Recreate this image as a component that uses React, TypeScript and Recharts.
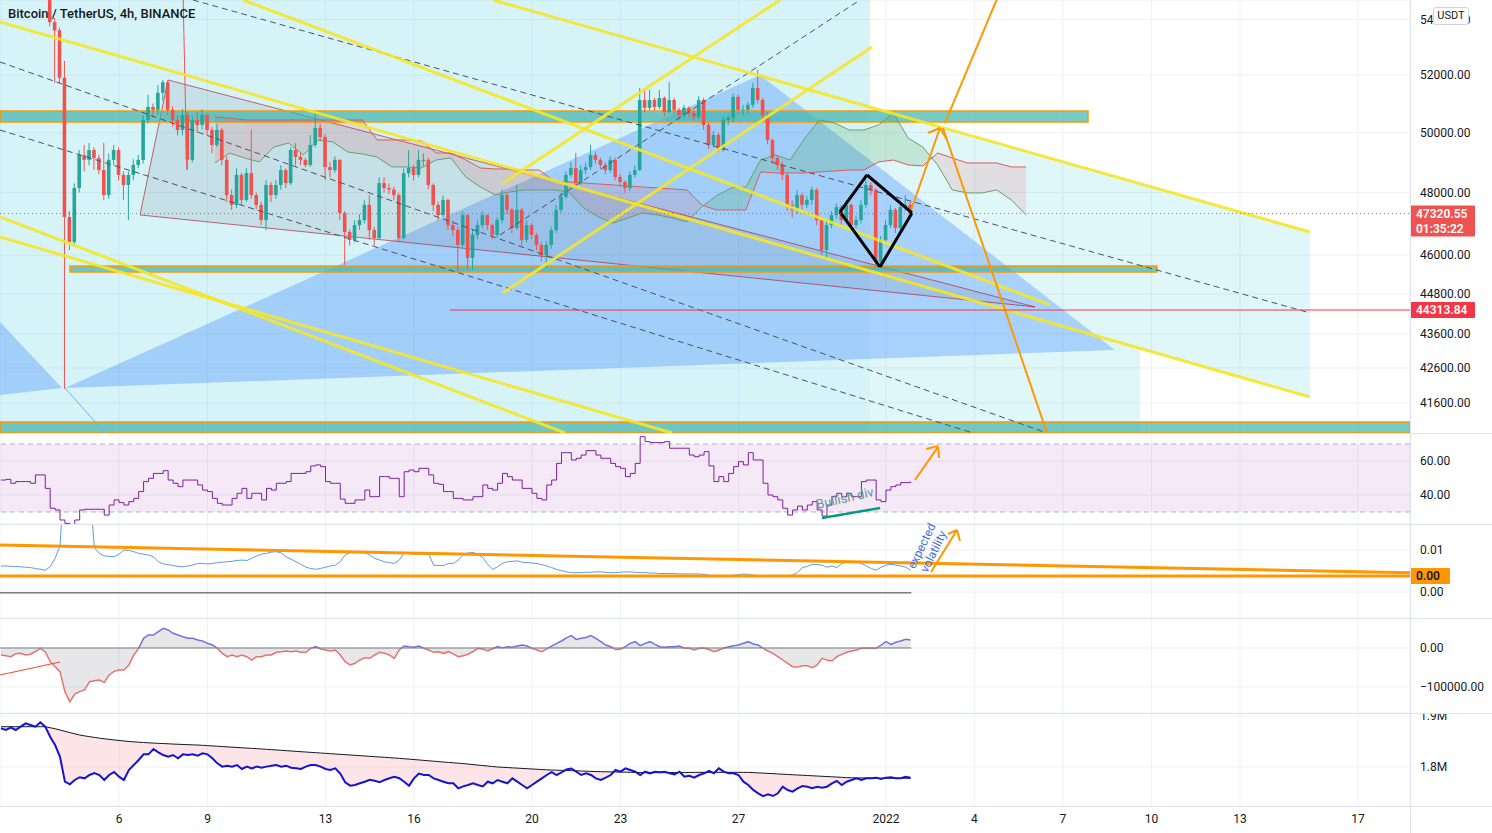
import React from 'react'
import {
  ComposedChart,
  Bar,
  Line,
  Area,
  XAxis,
  YAxis,
  CartesianGrid,
  ReferenceLine,
  ReferenceArea,
} from 'recharts'

// time axis: days counted from 1 Dec 2021 (32 = 1 Jan 2022)
const X_DOMAIN: [number, number] = [1.966, 49.763]
const X_TICKS = [6, 9, 13, 16, 20, 23, 27, 32, 35, 38, 41, 44, 48]
const X_TICK_LABELS = ['6', '9', '13', '16', '20', '23', '27', '2022', '4', '7', '10', '13', '17']
const FIRST_BAR_DAY = 2
const BARS_PER_DAY = 6

// BTCUSDT 4h candles
const FIRST_OPEN = 57000
const CLOSES = [
  57180, 56900, 56650, 56950, 56480, 56720, 56300, 56560, 56150, 55480,
  53900, 53600, 51900, 47210, 46410, 48150, 49240, 49080, 49410, 49140,
  48740, 47920, 49080, 49410, 48580, 48250, 48580, 48910, 49080, 50430,
  50880, 50780, 51370, 51740, 50780, 50430, 50090, 50600, 49080, 50430,
  50260, 50600, 50090, 49580, 50090, 49080, 47920, 47600, 48580, 47760,
  48640, 47920, 47600, 47110, 48250, 47920, 48250, 48740, 48310, 49410,
  49180, 49080, 48910, 49580, 50160, 49850, 48840, 48740, 49080, 47340,
  46730, 46480, 46950, 47110, 47600, 46790, 46540, 48310, 48150, 48100,
  47920, 46540, 48640, 48810, 48580, 49080, 49080, 48250, 47600, 47270,
  47760, 46950, 46790, 46320, 47270, 45910, 46640, 46950, 47270, 46950,
  46640, 47110, 47920, 47440, 46860, 47440, 46480, 46950, 46640, 46320,
  46000, 46320, 46790, 47440, 47860, 48580, 48810, 48310, 48740, 48840,
  49240, 49080, 48910, 48740, 49080, 48510, 48350, 48150, 48580, 48740,
  51120, 50850, 51120, 50880, 51190, 50710, 51120, 50780, 50600, 50850,
  50670, 50530, 51120, 50260, 49580, 49920, 49410, 50430, 50500, 51230,
  50780, 50780, 50950, 51540, 51120, 50600, 49750, 49140, 48910, 48580,
  47600, 47440, 47920, 47600, 47760, 48090, 47110, 46160, 46950, 47270,
  47530, 47110, 47600, 46950, 47110, 47600, 48250, 48090, 45790, 46480,
  46950, 47440, 46860, 47530, 47600, 47320,
]
const HIGHS = [
  57450, 57300, 57000, 57100, 57000, 56900, 56800, 56700, 56600, 56200,
  55600, 54050, 53700, 52500, 47400, 48300, 49410, 49580, 49650, 49500,
  49250, 49650, 49300, 49580, 49500, 48700, 48700, 49100, 49250, 50600,
  51300, 51000, 51650, 51820, 51800, 50900, 50600, 50800, 50700, 50600,
  50700, 50800, 50650, 50200, 50300, 50150, 49200, 48100, 48800, 48650,
  48800, 50090, 48000, 47700, 48400, 48350, 48400, 48900, 48800, 49500,
  49650, 49300, 49150, 49920, 50670, 50300, 49950, 49000, 49200, 49100,
  47400, 46800, 47100, 47300, 47750, 47920, 46900, 48500, 48500, 48300,
  48200, 48000, 48800, 49410, 48900, 49410, 49300, 49150, 48300, 47700,
  47900, 47800, 47100, 46900, 47400, 47300, 46800, 47100, 47400, 47300,
  47000, 47200, 48100, 48000, 47500, 48250, 47500, 47100, 47000, 46700,
  46400, 46450, 46900, 47600, 48000, 48700, 49000, 49310, 48900, 49000,
  49580, 49350, 49150, 49000, 49200, 49150, 48600, 48400, 48700, 48900,
  51540, 51540, 51470, 51200, 51470, 51250, 51750, 51200, 50850, 50950,
  50900, 50750, 51250, 51200, 50350, 50050, 50000, 50550, 50600, 51350,
  51300, 50950, 51050, 51720, 52180, 51200, 50700, 49800, 49250, 49000,
  48650, 47750, 48100, 48000, 47900, 48200, 48150, 47200, 47100, 47400,
  47650, 47600, 47750, 47650, 47250, 47750, 48414, 48350, 48150, 46600,
  47100, 47600, 47500, 47650, 47920, 47700,
]
const LOWS = [
  56800, 56700, 56400, 56500, 56200, 56300, 56100, 56200, 55800, 55200,
  53750, 51720, 51700, 42000, 46160, 46300, 48000, 48700, 48900, 48750,
  48600, 47750, 47800, 48900, 48400, 47760, 47110, 48400, 48800, 48950,
  50300, 50500, 50600, 51100, 50600, 50200, 49900, 49900, 48750, 49000,
  50000, 50100, 49900, 49300, 49500, 48900, 47700, 47440, 47500, 47600,
  47700, 47800, 47450, 46950, 46790, 47700, 47800, 48100, 48150, 48250,
  48900, 48900, 48840, 48850, 49500, 49700, 48410, 48500, 48650, 47110,
  45690, 46300, 46400, 46800, 47000, 46480, 46300, 46500, 48000, 47950,
  47750, 46400, 46500, 48500, 48400, 48500, 48850, 48100, 47400, 47100,
  47200, 46800, 46600, 45480, 46250, 45540, 45540, 46500, 46850, 46800,
  46500, 46550, 47000, 47300, 46700, 46800, 46300, 46400, 46500, 46150,
  45800, 45600, 46200, 46700, 47350, 47800, 48500, 48200, 48250, 48600,
  48750, 48950, 48800, 48600, 48650, 48400, 48200, 48000, 48050, 48500,
  48700, 50700, 50750, 50750, 50800, 50550, 50650, 50650, 50450, 50500,
  50550, 50400, 50450, 50090, 49450, 49500, 49340, 49350, 50250, 50350,
  50650, 50600, 50650, 50850, 51000, 50450, 49600, 49000, 48750, 48400,
  47400, 47200, 47300, 47450, 47500, 47600, 46950, 46000, 45910, 46850,
  47150, 46950, 47000, 46800, 46850, 47000, 47500, 47900, 45600, 45650,
  46400, 46850, 46700, 46800, 47400, 47250,
]
const LAST_PRICE = 47320.55
const LEVEL_PRICE = 44313.84

// price axis (log)
const PRICE_DOMAIN: [number, number] = [40757, 54720]
const PRICE_TICKS = [41600, 42600, 43600, 44800, 46000, 48000, 50000, 52000, 54000]

// ichimoku cloud, projected forward
const CLOUD_DAYS = [
  9.25, 9.75, 10.25, 10.75, 11.25, 11.75, 12.25, 12.75, 13.25, 13.75,
  14.25, 14.75, 15.25, 15.75, 16.25, 16.75, 17.25, 17.75, 18.25, 18.75,
  19.25, 19.75, 20.25, 20.75, 21.25, 21.75, 22.25, 22.75, 23.25, 23.75,
  24.25, 24.75, 25.25, 25.75, 26.25, 26.75, 27.25, 27.75, 28.25, 28.75,
  29.25, 29.75, 30.25, 30.75, 31.25, 31.75, 32.25, 32.75, 33.25, 33.75,
  34.25, 34.75, 35.25, 35.75, 36.25, 36.75,
]
const SPAN_A = [
  48977, 49311, 49144, 49010, 49513, 49648, 49244, 49749, 49682, 49345,
  49277, 49177, 48844, 48844, 48810, 49077, 49144, 48513, 48184, 47922,
  48021, 48086, 48086, 48086, 48021, 47500, 47211, 47018, 47178, 47339,
  47275, 47178, 47050, 47532, 47890, 48151, 48184, 49077, 49244, 49077,
  49817, 50431, 50328, 50089, 50089, 50259, 50671, 49817, 49513, 48910,
  48086, 47988, 47988, 48086, 47759, 47275,
]
const SPAN_B = [
  50533, 50499, 50431, 50431, 50431, 50431, 50431, 50431, 50431, 50431,
  50431, 49749, 49749, 49749, 49715, 49311, 49311, 49077, 48810, 48777,
  48777, 48744, 48744, 48381, 48348, 48315, 48282, 48250, 48217, 48184,
  48151, 48118, 48086, 47597, 47436, 47436, 47436, 48678, 48645, 48645,
  48645, 48678, 48711, 48744, 48744, 49010, 49077, 48910, 48877, 49311,
  49144, 48977, 48977, 48977, 48844, 48844,
]

// lower panes
const RSI = [
  48.8, 49.2, 46.9, 47.9, 47.9, 47.9, 46.9, 51.8, 51.8, 43.9,
  32.2, 31.2, 25.3, 23.3, 18, 25.3, 31.2, 31.6, 31.6, 31.6,
  31.6, 28.2, 34.1, 37.1, 35.5, 34.1, 36.1, 38.0, 42.0, 47.9,
  49.8, 52.7, 52.7, 54.3, 48.8, 46.9, 44.9, 48.8, 48.8, 48.8,
  45.9, 42.9, 42.0, 38.0, 35.1, 34.1, 34.1, 38.0, 41.0, 43.9,
  38.0, 41.0, 41.0, 37.1, 43.9, 42.9, 46.9, 46.9, 47.9, 52.7,
  52.7, 52.7, 53.7, 57.1, 57.7, 56.7, 47.9, 46.9, 46.9, 37.6,
  35.1, 35.1, 37.1, 37.1, 42.9, 39.0, 39.0, 50.8, 50.8, 49.8,
  49.8, 39.0, 53.7, 54.7, 53.7, 55.7, 55.7, 51.8, 46.9, 46.3,
  42.0, 42.0, 38.0, 38.0, 37.1, 37.1, 39.0, 39.0, 45.9, 43.9,
  42.9, 46.9, 52.7, 50.8, 48.8, 48.8, 43.9, 43.9, 41.0, 38.0,
  37.1, 45.9, 48.8, 58.6, 64.9, 64.9, 60.6, 61.6, 63.5, 66.1,
  66.1, 63.5, 61.6, 61.6, 58.6, 56.7, 55.7, 50.8, 52.7, 58.6,
  74.3, 71.4, 70.8, 70.8, 70.8, 71.4, 67.5, 67.5, 67.5, 67.5,
  63.5, 62.5, 63.5, 65.5, 57.1, 47.9, 50.8, 47.9, 52.7, 56.7,
  59.6, 57.7, 64.9, 60.6, 60.6, 46.9, 40.0, 39.0, 37.1, 32.2,
  28.2, 31.2, 33.5, 31.2, 34.1, 36.1, 31.2, 27.6, 34.1, 39.0,
  41.0, 39.0, 41.0, 39.0, 39.0, 47.9, 48.8, 48.8, 37.1, 36.1,
  42.9, 44.9, 45.9, 47.3, 47.3, 47.9,
]
const VOLATILITY = [
  0.0062, 0.0062, 0.0061, 0.0061, 0.006, 0.0059, 0.0058, 0.0056, 0.0054, 0.0052,
  0.006, 0.008, 0.011, 0.03, 0.034, 0.036, 0.035, 0.032, 0.025, 0.0105,
  0.0092, 0.0086, 0.0085, 0.0084, 0.009, 0.01, 0.0099, 0.0096, 0.0092, 0.009,
  0.0088, 0.0084, 0.0072, 0.0067, 0.0065, 0.0063, 0.0061, 0.006, 0.0062, 0.0064,
  0.0068, 0.0068, 0.0067, 0.0068, 0.007, 0.0071, 0.0072, 0.0073, 0.0075, 0.0076,
  0.0075, 0.008, 0.0086, 0.009, 0.0092, 0.0095, 0.0096, 0.0093, 0.0084, 0.0078,
  0.0072, 0.0066, 0.0059, 0.0056, 0.0054, 0.0056, 0.0059, 0.0062, 0.0064, 0.0072,
  0.0088, 0.0094, 0.0094, 0.0094, 0.0094, 0.0088, 0.008, 0.0076, 0.0072, 0.007,
  0.0068, 0.0076, 0.0092, 0.0091, 0.009, 0.009, 0.009, 0.009, 0.0064, 0.0063,
  0.0063, 0.0068, 0.0068, 0.0076, 0.0088, 0.0093, 0.0094, 0.009, 0.0082, 0.0066,
  0.0054, 0.006, 0.0068, 0.0072, 0.0073, 0.0074, 0.0071, 0.007, 0.0069, 0.0068,
  0.0065, 0.0062, 0.0058, 0.0054, 0.0051, 0.0048, 0.0046, 0.0046, 0.0046, 0.0047,
  0.0047, 0.0048, 0.0048, 0.0047, 0.0046, 0.0046, 0.0047, 0.0048, 0.0048, 0.0047,
  0.0046, 0.0046, 0.0045, 0.0045, 0.0044, 0.0044, 0.0044, 0.0044, 0.0043, 0.0043,
  0.0043, 0.0043, 0.0043, 0.0042, 0.004, 0.0039, 0.0038, 0.0038, 0.0039, 0.004,
  0.0041, 0.0043, 0.0042, 0.004, 0.0039, 0.0039, 0.0038, 0.0038, 0.0039, 0.0039,
  0.0038, 0.0041, 0.0046, 0.0058, 0.0061, 0.0066, 0.0065, 0.0064, 0.0059, 0.0062,
  0.0058, 0.0068, 0.0071, 0.0072, 0.0072, 0.0068, 0.0062, 0.0056, 0.0052, 0.0059,
  0.0064, 0.0066, 0.0064, 0.0062, 0.0059, 0.0052,
]
const OSC = [
  -17950, -20000, -22220, -15000, -13680, -17950, -16000, -9000, -850, -9400,
  -35040, -47860, -60680, -111960, -137600, -118000, -111960, -107690, -86320, -84000,
  -82050, -88030, -69230, -60000, -56410, -56410, -43590, -17950, -850, 24790,
  33330, 33330, 41880, 50530, 46150, 37610, 33330, 29060, 24790, 24790,
  20510, 17950, 11970, 7690, -850, -13680, -22220, -17950, -22220, -17950,
  -22220, -30770, -22220, -22220, -17950, -17950, -11110, -9400, -7690, -9400,
  -7690, -11110, -11110, -850, 3420, -2560, -5130, -7690, -5130, -17950,
  -35040, -43590, -39320, -30770, -24790, -26500, -17950, -11110, -13680, -17950,
  -26500, -5000, 5130, 3000, 1710, 5130, -850, -5130, -11110, -9400,
  -13680, -9400, -15000, -22220, -20000, -16000, -9000, -850, -3000, -7690,
  -2000, 3420, 0, 3420, 2000, 5130, 7690, 5000, -850, -5130,
  -9400, -2000, 5000, 12000, 18000, 26000, 31620, 22000, 24790, 27000,
  31620, 24790, 16240, 7690, 3420, -4000, -3420, 3420, 11970, 16240,
  5980, 11970, 16240, 9400, 3420, 1710, 3420, 3420, 5130, -850,
  -850, -5130, -850, -850, -4000, -9400, -5130, -850, 3420, 5980,
  7690, 11970, 16240, 10260, 7690, -850, -7690, -13680, -22220, -30770,
  -39320, -47860, -49000, -45300, -45300, -50430, -43590, -26500, -31000, -33330,
  -22220, -16240, -11110, -7690, -5130, -850, -850, -850, -850, 7690,
  16240, 9400, 14530, 17950, 22220, 20510,
]
const OBV = [
  1875800, 1872500, 1877100, 1872500, 1879100, 1885600, 1882400, 1879100, 1887600, 1879100,
  1859500, 1843100, 1820000, 1771200, 1766000, 1774500, 1780000, 1777800, 1784300, 1788000,
  1784300, 1774500, 1784300, 1790000, 1781000, 1774500, 1794100, 1803900, 1813700, 1824800,
  1824800, 1835300, 1828800, 1823500, 1820300, 1823500, 1817000, 1824800, 1823500, 1824800,
  1822200, 1826800, 1824800, 1817000, 1807200, 1800700, 1802600, 1800700, 1803900, 1796100,
  1800700, 1797400, 1800700, 1798700, 1800700, 1802600, 1803900, 1800700, 1802600, 1798700,
  1797400, 1796100, 1800700, 1803900, 1803900, 1800700, 1796100, 1794100, 1797400, 1787000,
  1770000, 1763400, 1764700, 1768000, 1771200, 1775000, 1773000, 1770000, 1774500, 1778000,
  1781000, 1778000, 1771200, 1763400, 1777800, 1787000, 1784300, 1784300, 1777800, 1774500,
  1771200, 1768000, 1768000, 1758200, 1762000, 1764700, 1768000, 1764700, 1762000, 1771200,
  1768000, 1774500, 1771200, 1768000, 1777800, 1771200, 1764700, 1758200, 1764700, 1771200,
  1777800, 1784300, 1790000, 1784300, 1789500, 1795000, 1797000, 1790800, 1784300, 1787600,
  1784300, 1777800, 1774500, 1779100, 1784300, 1794100, 1790800, 1797400, 1794100, 1790800,
  1784300, 1790800, 1787600, 1790800, 1789500, 1790800, 1787600, 1785600, 1790800, 1781000,
  1782900, 1779100, 1784300, 1787600, 1792200, 1787600, 1797400, 1790800, 1787600, 1787600,
  1784300, 1771200, 1764700, 1755000, 1748400, 1743000, 1746400, 1743100, 1748400, 1761400,
  1754900, 1751600, 1758200, 1762700, 1761400, 1758200, 1761400, 1759500, 1761400, 1768000,
  1772500, 1764700, 1771200, 1774500, 1777800, 1774500, 1777800, 1777800, 1779100, 1776500,
  1779100, 1779700, 1777800, 1777800, 1781000, 1779100,
]
const OBV_MA = [
  1879000, 1879000, 1879000, 1879000, 1879000, 1879000, 1879000, 1879000, 1879000, 1879000,
  1877000, 1875000, 1872500, 1870000, 1867500, 1865000, 1862700, 1861000, 1859500, 1858000,
  1856500, 1855300, 1854200, 1853100, 1852000, 1851000, 1850000, 1849300, 1848600, 1848000,
  1847400, 1846900, 1846400, 1846000, 1845500, 1845000, 1844600, 1844200, 1843800, 1843400,
  1843100, 1842500, 1841900, 1841300, 1840700, 1840100, 1839500, 1838900, 1838300, 1837700,
  1837100, 1836600, 1836000, 1835300, 1834700, 1834000, 1833400, 1832700, 1832000, 1831400,
  1830700, 1830000, 1829400, 1828700, 1828100, 1827400, 1826800, 1826100, 1825500, 1824800,
  1824200, 1823500, 1822900, 1822200, 1821600, 1820900, 1820300, 1819600, 1819000, 1818300,
  1817700, 1817000, 1816200, 1815400, 1814600, 1813800, 1813000, 1812200, 1811400, 1810600,
  1809800, 1809000, 1808200, 1807500, 1806600, 1805700, 1804700, 1803800, 1802800, 1801900,
  1800900, 1800000, 1799400, 1798900, 1798300, 1797800, 1797200, 1796700, 1796100, 1795600,
  1795000, 1794500, 1794000, 1793700, 1793400, 1793100, 1792800, 1792500, 1792100, 1791800,
  1791400, 1791100, 1790800, 1790600, 1790400, 1790200, 1790000, 1789800, 1789600, 1789400,
  1789200, 1789000, 1788900, 1788900, 1789000, 1789000, 1789100, 1789200, 1789200, 1789300,
  1789400, 1789400, 1789500, 1789500, 1789500, 1789500, 1789500, 1789500, 1789500, 1789500,
  1789500, 1789500, 1789500, 1789000, 1788500, 1788000, 1787500, 1787000, 1786400, 1785900,
  1785400, 1784800, 1784300, 1783800, 1783300, 1782800, 1782300, 1781800, 1781300, 1780800,
  1780300, 1779800, 1779100, 1778900, 1778700, 1778600, 1778400, 1778200, 1778100, 1778000,
  1777900, 1777900, 1777800, 1777800, 1777800, 1777800,
]

const RSI_DOMAIN: [number, number] = [22.94, 75.88]
const VOL_DOMAIN: [number, number] = [-0.00619, 0.01619]
const OSC_DOMAIN: [number, number] = [-166667, 76923]
const OBV_DOMAIN: [number, number] = [1723529, 1905882]
const VOL_BAND = 0.0038

// drawings on the price pane: [day, price]
type Pt = [number, number]
const CYAN_LEFT: Pt[] = [[1.966, 40757], [31.458, 40757], [31.458, 54720], [1.966, 54720]]
const CYAN_CHANNEL: Pt[] = [[31.458, 50879], [46.373, 46731], [46.373, 41768], [31.458, 45507]]
const CYAN_LOW: Pt[] = [[31.458, 45507], [40.61, 43186], [40.61, 40757], [31.458, 40757]]
const BLUE_TRIANGLE: Pt[] = [[4.169, 42024], [27.729, 51998], [39.763, 43127]]
const BLUE_EDGE: Pt[] = [[1.966, 43957], [4.068, 42024], [1.966, 41825]]
const WEDGE: Pt[] = [[6.712, 47275], [7.661, 51821], [37.051, 44407]]
const ZONES: [number, number, number, number][] = [
  [1.966, 38.847, 50360, 50740],
  [4.339, 41.186, 45476, 45660],
  [1.966, 49.763, 40757, 41065],
]
const YELLOW: [Pt, Pt][] = [
  [[1.966, 53908], [46.373, 41768]],
  [[10.203, 54720], [37.559, 44468]],
  [[18.678, 54720], [46.373, 46731]],
  [[19.017, 48315], [28.407, 54720]],
  [[19.017, 44832], [31.525, 52998]],
  [[1.966, 47211], [21.119, 40757]],
  [[1.966, 46572], [24.746, 40757]],
]
const DASHED: [Pt, Pt][] = [
  [[8.508, 54720], [46.373, 44226]],
  [[1.966, 52460], [37.458, 40757]],
  [[1.966, 50089], [34.949, 40757]],
  [[18.915, 46636], [31.119, 54720]],
]
const ORANGE: [Pt, Pt][] = [
  [[32.814, 47339], [33.83, 50157]],
  [[33.42, 49987], [33.83, 50157]],
  [[33.83, 50157], [34.07, 49749]],
  [[34.0, 50328], [35.86, 55018]],
  [[33.93, 50157], [37.458, 40757]],
]
const DIAMOND: Pt[] = [[30.441, 47371], [31.356, 48578], [32.881, 47339], [31.797, 45631], [30.441, 47371]]
const RED_STROKE: [Pt, Pt] = [[8.17, 55000], [8.3, 48744]]
const RED_THIN: [Pt, Pt] = [[4.169, 42024], [5.525, 40757]]

// drawings on the lower panes
const RSI_DIV: [Pt, Pt] = [[29.83, 26.47], [31.8, 32.35]]
const RSI_ARROW: [Pt, Pt][] = [
  [[32.98, 48.8], [33.76, 68.2]],
  [[33.36, 67.1], [33.76, 68.8]],
  [[33.76, 68.8], [33.8, 61.8]],
]
const VOL_TREND: [Pt, Pt] = [[1.966, 0.0112], [49.763, 0.0046]]
const VOL_BASE: [Pt, Pt] = [[1.966, -0.0002], [32.86, -0.0002]]
const VOL_ARROW: [Pt, Pt][] = [
  [[33.525, 0.00476], [34.407, 0.01476]],
  [[34.1, 0.01381], [34.407, 0.01476]],
  [[34.407, 0.01476], [34.508, 0.01214]],
]
const OSC_ZERO: [Pt, Pt] = [[1.966, 0], [32.86, 0]]
const OSC_DRAW: [Pt, Pt] = [[1.966, -69231], [4.0, -35897]]

const FONT = 'Roboto, "Liberation Sans", Arial, sans-serif'
const GRID = '#eef1f6'
const TICK = { fontSize: 12, fill: '#131722', fontFamily: FONT }
const UP = '#26a69a'
const DOWN = '#ef5350'

const barDay = (i: number) => FIRST_BAR_DAY + i / BARS_PER_DAY

const candleRows = CLOSES.map((c, i) => {
  const o = i === 0 ? FIRST_OPEN : CLOSES[i - 1]
  return { x: barDay(i), o, h: HIGHS[i], l: LOWS[i], c, range: [LOWS[i], HIGHS[i]] }
})

const paneRows = CLOSES.map((_, i) => ({
  x: barDay(i),
  rsi: RSI[i],
  vol: VOLATILITY[i],
  osc: OSC[i],
  obv: OBV[i],
  ma: OBV_MA[i],
  band: [OBV[i], OBV_MA[i]],
}))

const cloudRows = CLOUD_DAYS.map((d, i) => ({ x: d, a: SPAN_A[i], b: SPAN_B[i], cloud: [SPAN_A[i], SPAN_B[i]] }))

function cloudStops() {
  const first = CLOUD_DAYS[0]
  const last = CLOUD_DAYS[CLOUD_DAYS.length - 1]
  const green = 'rgba(67,160,71,0.2)'
  const red = 'rgba(229,57,53,0.13)'
  const stops: { off: number; col: string }[] = []
  let up = SPAN_A[0] >= SPAN_B[0]
  stops.push({ off: 0, col: up ? green : red })
  for (let i = 1; i < CLOUD_DAYS.length; i++) {
    const nowUp = SPAN_A[i] >= SPAN_B[i]
    if (nowUp !== up) {
      const d0 = SPAN_A[i - 1] - SPAN_B[i - 1]
      const d1 = SPAN_A[i] - SPAN_B[i]
      const day = CLOUD_DAYS[i - 1] + (d0 / (d0 - d1)) * (CLOUD_DAYS[i] - CLOUD_DAYS[i - 1])
      const off = (day - first) / (last - first)
      stops.push({ off, col: up ? green : red })
      stops.push({ off, col: nowUp ? green : red })
      up = nowUp
    }
  }
  stops.push({ off: 1, col: up ? green : red })
  return stops
}

const oscMax = Math.max(...OSC)
const oscMin = Math.min(...OSC)
const oscZero = oscMax / (oscMax - oscMin)

// eslint-disable-next-line @typescript-eslint/no-explicit-any
function Candle(props: any) {
  const { x, y, width, height, payload } = props
  if (!payload || y == null || height == null) return null
  const { o, h, l, c } = payload
  const top = Math.min(y, y + height)
  const bot = Math.max(y, y + height)
  const lh = Math.log(h)
  const ll = Math.log(l)
  const py = (p: number) => top + ((lh - Math.log(p)) / (lh - ll || 1)) * (bot - top)
  const col = c >= o ? UP : DOWN
  const cx = x + width / 2
  const b1 = py(Math.max(o, c))
  const b2 = py(Math.min(o, c))
  return (
    <g>
      <line x1={cx} x2={cx} y1={top} y2={bot} stroke={col} strokeWidth={1} />
      <rect x={cx - 1.8} y={b1} width={3.6} height={Math.max(1, b2 - b1)} fill={col} />
    </g>
  )
}

function poly(key: string, pts: Pt[], fill: string, stroke = 'none', sw = 1) {
  const xs = pts.map((p) => p[0])
  const ys = pts.map((p) => p[1])
  const x1 = Math.min(...xs)
  const x2 = Math.max(...xs)
  const y1 = Math.min(...ys)
  const y2 = Math.max(...ys)
  // eslint-disable-next-line @typescript-eslint/no-explicit-any
  const shape = (p: any) => {
    const ly1 = Math.log(y1)
    const ly2 = Math.log(y2)
    const points = pts
      .map(([d, v]) => {
        const px = p.x + ((d - x1) / (x2 - x1)) * p.width
        const py = p.y + ((ly2 - Math.log(v)) / (ly2 - ly1)) * p.height
        return `${px},${py}`
      })
      .join(' ')
    return <polygon points={points} fill={fill} stroke={stroke} strokeWidth={sw} />
  }
  return <ReferenceArea key={key} x1={x1} x2={x2} y1={y1} y2={y2} ifOverflow="hidden" shape={shape} />
}

function seg(key: string, s: [Pt, Pt], stroke: string, width = 1, dash?: string) {
  return (
    <ReferenceLine
      key={key}
      segment={[{ x: s[0][0], y: s[0][1] }, { x: s[1][0], y: s[1][1] }]}
      stroke={stroke}
      strokeWidth={width}
      strokeDasharray={dash}
      ifOverflow="hidden"
    />
  )
}

// eslint-disable-next-line @typescript-eslint/no-explicit-any
function Tag(props: any) {
  const { viewBox, lines, bg, color, w } = props
  if (!viewBox) return null
  const x = viewBox.x + viewBox.width
  const y = viewBox.y
  const h = lines.length * 15 + 1
  return (
    <g>
      <rect x={x} y={y - 8} width={w} height={h} fill={bg} rx={1} />
      {lines.map((t: string, i: number) => (
        <text key={t} x={x + 6} y={y + 4 + i * 15} fill={color} fontSize={12} fontWeight={600} fontFamily={FONT}>
          {t}
        </text>
      ))}
    </g>
  )
}

const hiddenX = () => (
  <XAxis type="number" dataKey="x" domain={X_DOMAIN} ticks={X_TICKS} allowDataOverflow hide />
)

const rightAxis = (domain: [number, number], ticks: number[], fmt: (v: number) => string, log = false) => (
  <YAxis
    orientation="right"
    width={82}
    type="number"
    scale={log ? 'log' : 'linear'}
    domain={domain}
    ticks={ticks}
    interval={0}
    allowDataOverflow
    tickLine={false}
    axisLine={false}
    tickMargin={4}
    tick={TICK}
    tickFormatter={fmt}
  />
)

const M0 = { top: 0, right: 0, bottom: 0, left: 0 }

export default function App() {
  const stops = cloudStops()
  const sep = (top: number) => (
    <div style={{ position: 'absolute', left: 0, top, width: 1492, height: 1, background: '#e0e3eb' }} />
  )
  return (
    <div
      style={{
        position: 'absolute',
        left: 0,
        top: 0,
        width: 1492,
        height: 833,
        overflow: 'hidden',
        background: '#ffffff',
        fontFamily: FONT,
      }}
    >
      {/* price pane, background drawings */}
      <div style={{ position: 'absolute', left: 0, top: 0 }}>
        <ComposedChart width={1492} height={433} data={cloudRows} margin={M0}>
          <defs>
            <linearGradient id="cloudFill" x1="0" y1="0" x2="1" y2="0">
              {stops.map((s, i) => (
                <stop key={i} offset={s.off} stopColor={s.col} />
              ))}
            </linearGradient>
          </defs>
          <CartesianGrid stroke={GRID} />
          {hiddenX()}
          {rightAxis(PRICE_DOMAIN, PRICE_TICKS, (v) => v.toFixed(2), true)}
          {poly('cl', CYAN_LEFT, 'rgba(0,188,212,0.16)')}
          {poly('cc', CYAN_CHANNEL, 'rgba(0,188,212,0.12)')}
          {poly('cw', CYAN_LOW, 'rgba(0,188,212,0.12)')}
          {poly('bt', BLUE_TRIANGLE, 'rgba(41,121,255,0.3)')}
          {poly('be', BLUE_EDGE, 'rgba(41,121,255,0.3)')}
          {poly('wg', WEDGE, 'rgba(120,123,150,0.16)', 'rgba(178,40,60,0.7)', 1)}
          {ZONES.map((z, i) => (
            <ReferenceArea
              key={'z' + i}
              x1={z[0]}
              x2={z[1]}
              y1={z[2]}
              y2={z[3]}
              ifOverflow="hidden"
              fill="#3fb3ad"
              fillOpacity={0.7}
              stroke="#ff9800"
              strokeWidth={1.5}
            />
          ))}
          <Area
            dataKey="cloud"
            type="linear"
            stroke="none"
            fill="url(#cloudFill)"
            fillOpacity={1}
            isAnimationActive={false}
            dot={false}
            activeDot={false}
          />
          <Line dataKey="a" type="linear" stroke="#66a06a" strokeWidth={1} dot={false} isAnimationActive={false} />
          <Line dataKey="b" type="linear" stroke="#e05a5a" strokeWidth={1} dot={false} isAnimationActive={false} />
        </ComposedChart>
      </div>

      {/* price pane, candles and line drawings */}
      <div style={{ position: 'absolute', left: 0, top: 0 }}>
        <ComposedChart width={1492} height={433} data={candleRows} margin={{ top: 0, right: 82, bottom: 0, left: 0 }}>
          {hiddenX()}
          <YAxis hide type="number" scale="log" domain={PRICE_DOMAIN} allowDataOverflow />
          {seg('rv', RED_STROKE, '#ef5350', 1)}
          {seg('rt', RED_THIN, '#64b5f6', 1)}
          <Bar dataKey="range" barSize={4} isAnimationActive={false} shape={(p: unknown) => <Candle {...(p as object)} />} />
          {DASHED.map((s, i) => seg('d' + i, s, '#4a5068', 1, '6 4'))}
          {YELLOW.map((s, i) => seg('y' + i, s, 'rgba(245,230,40,0.9)', 3))}
          {ORANGE.map((s, i) => seg('o' + i, s, '#ff9800', 2))}
          {DIAMOND.slice(1).map((p, i) => seg('k' + i, [DIAMOND[i], p], '#000000', 3))}
          <ReferenceLine
            segment={[{ x: 17.22, y: LEVEL_PRICE }, { x: X_DOMAIN[1], y: LEVEL_PRICE }]}
            stroke="#f23645"
            strokeWidth={1}
            label={<Tag lines={[LEVEL_PRICE.toFixed(2)]} bg="#f23645" color="#ffffff" w={65} />}
          />
          <ReferenceLine
            y={LAST_PRICE}
            stroke="#ef5350"
            strokeWidth={1}
            strokeDasharray="1 3"
            label={<Tag lines={[LAST_PRICE.toFixed(2), '01:35:22']} bg="#ef5350" color="#ffffff" w={65} />}
          />
        </ComposedChart>
      </div>

      {/* RSI */}
      <div style={{ position: 'absolute', left: 0, top: 434 }}>
        <ComposedChart width={1492} height={90} data={paneRows} margin={M0}>
          <CartesianGrid stroke={GRID} />
          {hiddenX()}
          {rightAxis(RSI_DOMAIN, [40, 60], (v) => v.toFixed(2))}
          <ReferenceArea y1={30} y2={70} fill="#9c27b0" fillOpacity={0.1} stroke="none" />
          <ReferenceLine y={70} stroke="#b2b5be" strokeDasharray="5 4" />
          <ReferenceLine y={30} stroke="#b2b5be" strokeDasharray="5 4" />
          <Line dataKey="rsi" type="stepAfter" stroke="#7e1f9e" strokeWidth={1} dot={false} isAnimationActive={false} />
          {seg('div', RSI_DIV, '#089981', 2.5)}
          {RSI_ARROW.map((s, i) => seg('ra' + i, s, '#ff9800', 2))}
        </ComposedChart>
      </div>

      {/* expected volatility */}
      <div style={{ position: 'absolute', left: 0, top: 524 }}>
        <ComposedChart width={1492} height={94} data={paneRows} margin={M0}>
          <CartesianGrid stroke={GRID} />
          {hiddenX()}
          {rightAxis(VOL_DOMAIN, [0, 0.01], (v) => v.toFixed(2))}
          {seg('vb', VOL_BASE, '#787b86', 1.5)}
          <Line dataKey="vol" type="linear" stroke="#5a9fd8" strokeWidth={1} dot={false} isAnimationActive={false} />
          {seg('vt', VOL_TREND, '#ff9800', 3)}
          <ReferenceLine
            y={VOL_BAND}
            stroke="#ff9800"
            strokeWidth={3}
            label={<Tag lines={['0.00']} bg="#ff9800" color="#131722" w={40} />}
          />
          {VOL_ARROW.map((s, i) => seg('va' + i, s, '#ff9800', 2))}
        </ComposedChart>
      </div>

      {/* oscillator */}
      <div style={{ position: 'absolute', left: 0, top: 618 }}>
        <ComposedChart width={1492} height={95} data={paneRows} margin={M0}>
          <defs>
            <linearGradient id="oscStroke" x1="0" y1="0" x2="0" y2="1">
              <stop offset={oscZero} stopColor="#7272dc" />
              <stop offset={oscZero} stopColor="#e57370" />
            </linearGradient>
          </defs>
          <CartesianGrid stroke={GRID} />
          {hiddenX()}
          {rightAxis(OSC_DOMAIN, [-100000, 0], (v) => v.toFixed(2).replace('-', '\u2212'))}
          <Area
            dataKey="osc"
            type="linear"
            baseValue={0}
            stroke="url(#oscStroke)"
            strokeWidth={1.5}
            fill="#787b86"
            fillOpacity={0.18}
            dot={false}
            activeDot={false}
            isAnimationActive={false}
          />
          {seg('oz', OSC_ZERO, '#787b86', 1)}
          {seg('od', OSC_DRAW, '#f44336', 1)}
        </ComposedChart>
      </div>

      {/* OBV with moving average, and the time axis */}
      <div style={{ position: 'absolute', left: 0, top: 713 }}>
        <ComposedChart width={1492} height={120} data={paneRows} margin={M0}>
          <CartesianGrid stroke={GRID} />
          <XAxis
            type="number"
            dataKey="x"
            domain={X_DOMAIN}
            ticks={X_TICKS}
            interval={0}
            allowDataOverflow
            height={27}
            tickLine={false}
            axisLine={false}
            tick={TICK}
            tickFormatter={(v: number) => X_TICK_LABELS[X_TICKS.indexOf(v)] ?? ''}
          />
          {rightAxis(OBV_DOMAIN, [1800000, 1900000], (v) => (v / 1e6).toFixed(1) + 'M')}
          <Area
            dataKey="band"
            type="linear"
            stroke="none"
            fill="#f23645"
            fillOpacity={0.13}
            dot={false}
            activeDot={false}
            isAnimationActive={false}
          />
          <Line dataKey="ma" type="linear" stroke="#131722" strokeWidth={1} dot={false} isAnimationActive={false} />
          <Line dataKey="obv" type="linear" stroke="#1414d2" strokeWidth={2} dot={false} isAnimationActive={false} />
        </ComposedChart>
      </div>

      {sep(433)}
      {sep(524)}
      {sep(618)}
      {sep(713)}
      {sep(806)}
      <div style={{ position: 'absolute', left: 1410, top: 0, width: 1, height: 833, background: '#e0e3eb' }} />

      <div
        style={{
          position: 'absolute',
          left: 8,
          top: 6,
          fontSize: 13,
          fontWeight: 500,
          color: '#131722',
          whiteSpace: 'nowrap',
        }}
      >
        Bitcoin / TetherUS, 4h, BINANCE
      </div>
      <div
        style={{
          position: 'absolute',
          left: 1433,
          top: 7,
          width: 34,
          height: 16,
          border: '1px solid #d1d4dc',
          borderRadius: 3,
          background: '#ffffff',
          fontSize: 11,
          lineHeight: '16px',
          textAlign: 'center',
          color: '#131722',
        }}
      >
        USDT
      </div>
      <div
        style={{
          position: 'absolute',
          left: 818,
          top: 497,
          fontSize: 13,
          color: '#5b9a8b',
          transform: 'rotate(-13deg)',
          transformOrigin: 'left bottom',
          whiteSpace: 'nowrap',
        }}
      >
        Bullish div
      </div>
      <div
        style={{
          position: 'absolute',
          left: 896,
          top: 536,
          width: 64,
          fontSize: 12,
          lineHeight: '13px',
          color: '#3a6fe0',
          transform: 'rotate(-64deg)',
          transformOrigin: 'center',
          textAlign: 'center',
          whiteSpace: 'nowrap',
        }}
      >
        expected
        <br />
        volatility
      </div>
    </div>
  )
}
